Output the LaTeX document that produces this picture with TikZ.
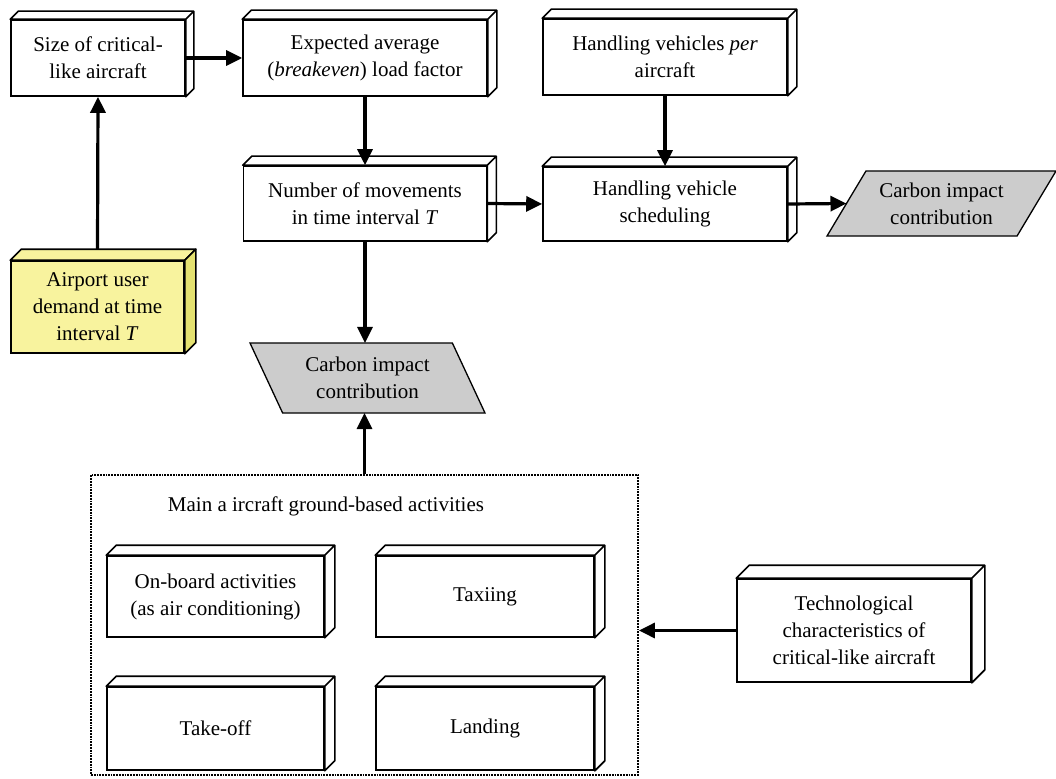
\documentclass[tikz,border=0pt]{standalone}
\usepackage{fontspec}
\setmainfont{Liberation Serif}
\usepackage{tikz}
\usetikzlibrary{arrows.meta, shapes.geometric}

\definecolor{demandfront}{RGB}{248,243,158}
\definecolor{demandside}{RGB}{228,225,112}
\definecolor{impactgray}{RGB}{204,204,204}
\newcommand{\boxfont}{\fontsize{21}{27}\selectfont}

\begin{document}
\begin{tikzpicture}[x=1pt,y=-1pt]
    \tikzstyle{block}=[draw,line width=1.6pt,fill=white,align=center,inner sep=0pt,font=\boxfont]
    \tikzstyle{face}=[draw,line width=1.6pt,fill=white,line join=round]
    \tikzstyle{impact}=[draw,line width=1.3pt,fill=impactgray,trapezium,trapezium stretches body,align=center,inner sep=0pt,outer sep=0pt,font=\boxfont]
    \tikzstyle{edge}=[draw,line width=3.2pt,-{Triangle[length=16pt,width=15pt]}]
    \tikzstyle{activities}=[draw,line width=1.8pt,densely dotted,minimum width=547pt,minimum height=300pt]

    \useasboundingbox (0,0) rectangle (1056,778);

    % top row
    \node[block, minimum width=174pt, minimum height=76pt] (size) at (98,58) {Size of critical-\\like aircraft};
    \node[block, minimum width=244pt, minimum height=76pt] (load) at (365,58) {Expected average\\(\textit{breakeven}) load factor};
    \node[block, minimum width=244pt, minimum height=76pt] (vehper) at (665,57) {Handling vehicles \textit{per}\\aircraft};

    % middle row
    \node[block, minimum width=243pt, minimum height=75pt] (moves) at (365,203.5) {Number of movements\\in time interval \textit{T}};
    \node[block, minimum width=244pt, minimum height=74pt] (sched) at (665,204) {Handling vehicle\\scheduling};
    \node[impact, minimum width=229pt, minimum height=65pt, trapezium left angle=47, trapezium right angle=133] (carbright) at (941.5,203.5) {Carbon impact\\contribution};

    % demand
    \node[block, fill=demandfront, minimum width=173pt, minimum height=92pt] (demand) at (97.5,307) {Airport user\\demand at time\\interval \textit{T}};
    \draw[face, fill=demandfront] (demand.north west) -- ++(11,-11) -- ([shift={(11,-11)}]demand.north east) -- (demand.north east) -- cycle;
    \draw[face, fill=demandside] (demand.north east) -- ++(11,-11) -- ([shift={(11,-11)}]demand.south east) -- (demand.south east) -- cycle;

    \node[impact, minimum width=235pt, minimum height=70pt, trapezium left angle=128, trapezium right angle=52] (carbmid) at (367.5,378) {Carbon impact\\contribution};

    % ground-based activities
    \node[activities] (acts) at (364.5,625) {};
    \node[font=\boxfont] (actstitle) at (326,506) {Main a ircraft ground-based activities};
    \node[block, minimum width=217pt, minimum height=81pt] (onboard) at (215.5,596.5) {On-board activities\\(as air conditioning)};
    \node[block, minimum width=218pt, minimum height=81pt] (taxi) at (485,596.5) {Taxiing};
    \node[block, minimum width=217pt, minimum height=83pt] (takeoff) at (215.5,728.5) {Take-off};
    \node[block, minimum width=218pt, minimum height=83pt] (landing) at (485,728.5) {Landing};

    \node[block, minimum width=234pt, minimum height=103pt] (tech) at (854,630.5) {Technological\\characteristics of\\critical-like aircraft};

    % box depth
    \foreach \n/\d in {size/8, load/9, vehper/9, moves/9, sched/9, onboard/10, taxi/10, takeoff/10, landing/10, tech/13} {
        \draw[face] (\n.north west) -- ++(\d,-\d) -- ([shift={(\d,-\d)}]\n.north east) -- ([shift={(\d,-\d)}]\n.south east) -- (\n.south east) -- (\n.north east) -- cycle
            (\n.north east) -- ++(\d,-\d);
    }

    \path[edge] ([yshift=11pt]demand.north) -- (size.south);
    \path[edge] (size.east) -- (load.west);
    \path[edge] (load.south) -- (moves.north);
    \path[edge] (vehper.south) -- (sched.north);
    \path[edge] (moves.east) -- (sched.west);
    \path[edge] (sched.east) -- (carbright.left side);
    \path[edge] (moves.south) -- (moves.south |- carbmid.north);
    \path[edge] (acts.north) -- (acts.north |- carbmid.south);
    \path[edge] (tech.west) -- (tech.west -| acts.east);
\end{tikzpicture}
\end{document}
